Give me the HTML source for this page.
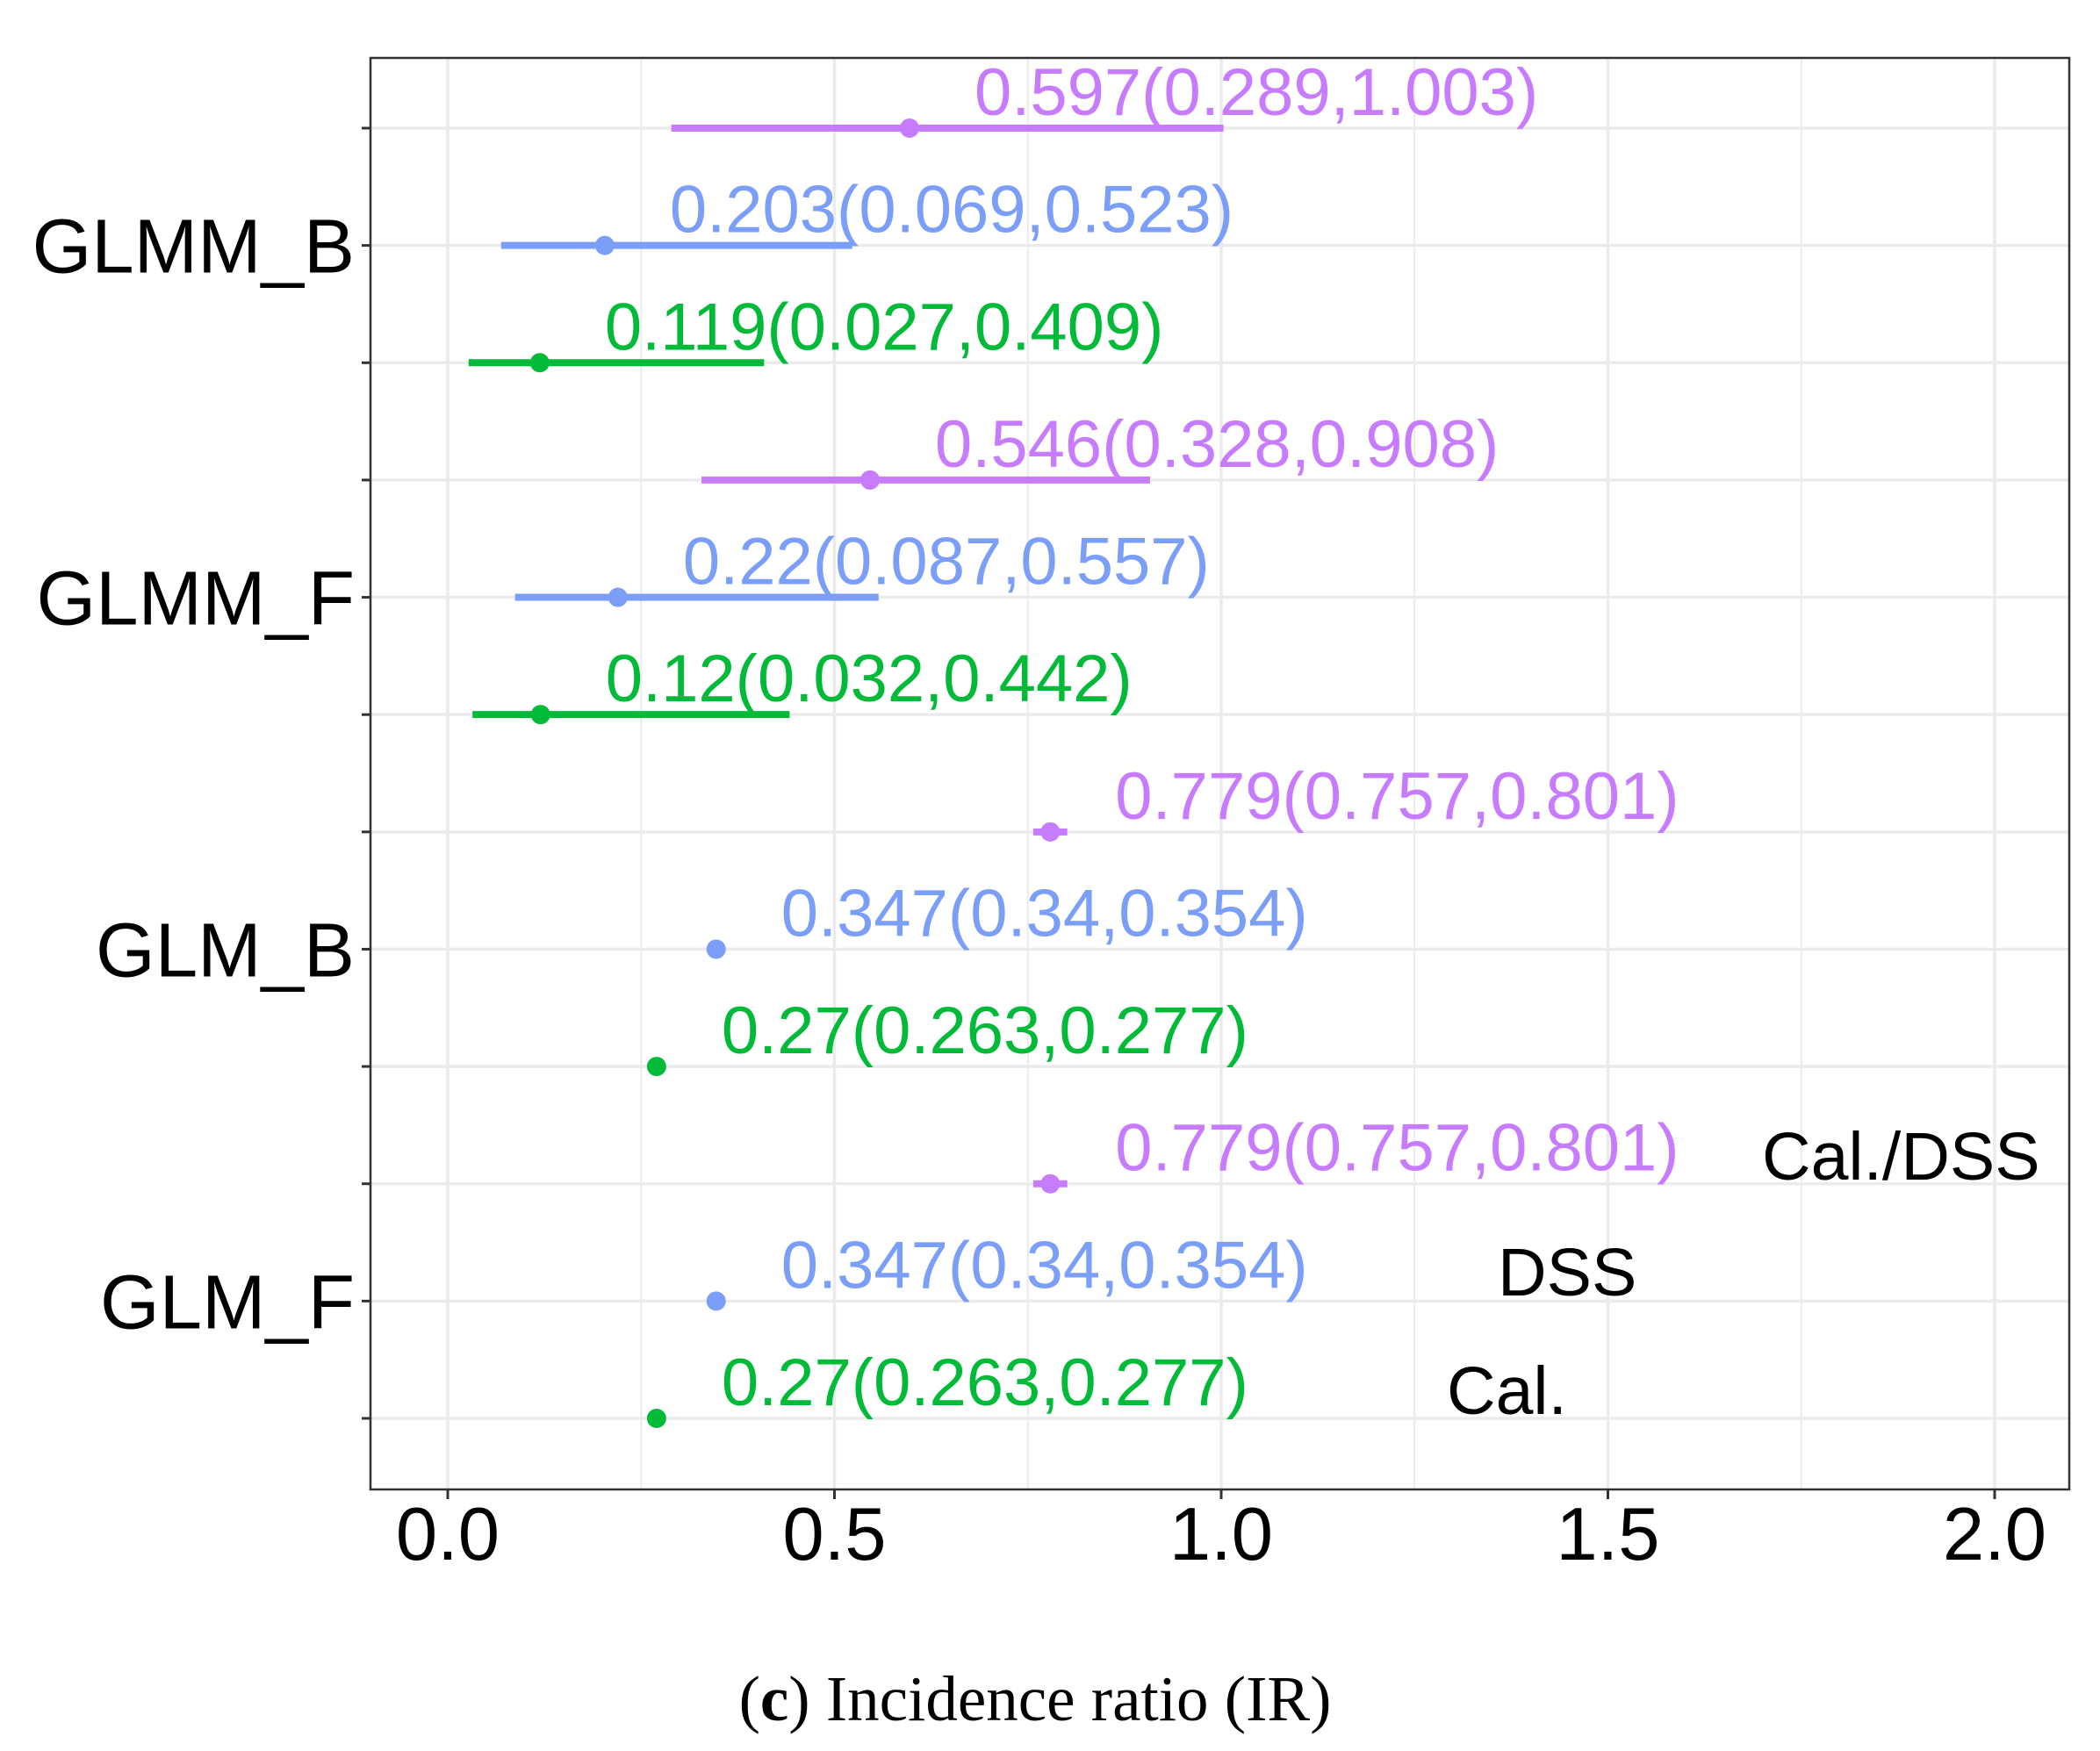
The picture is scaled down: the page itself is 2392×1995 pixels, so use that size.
<!DOCTYPE html>
<html><head><meta charset="utf-8"><style>
body{margin:0;background:#fff}
svg{display:block}
</style></head><body>
<svg id="chart" width="2392" height="1995" viewBox="0 0 2392 1995" xmlns="http://www.w3.org/2000/svg" font-family="Liberation Sans, sans-serif">
<rect x="0" y="0" width="2392" height="1995" fill="#fff"/>
<g id="grid"></g>
<g id="marks"></g>
<rect x="422" y="66" width="1935" height="1631" fill="none" stroke="#333" stroke-width="2.5"/>
<g id="axes"></g>
<text x="2007" y="1344" font-size="77" fill="#000">Cal./DSS</text>
<text x="1706" y="1476" font-size="77" fill="#000">DSS</text>
<text x="1648" y="1611" font-size="77" fill="#000">Cal.</text>
<text x="1179" y="1960" text-anchor="middle" font-family="Liberation Serif, serif" font-size="73" fill="#000">(<tspan font-weight="bold">c</tspan>) Incidence ratio (IR)</text>
</svg>
<script>
const models = ["GLMM_B","GLMM_F","GLM_B","GLM_F"];
const estimates = [0.597,0.203,0.119, 0.546,0.22,0.12, 0.779,0.347,0.27, 0.779,0.347,0.27];
const lows = [0.289,0.069,0.027, 0.328,0.087,0.032, 0.757,0.34,0.263, 0.757,0.34,0.263];
const highs = [1.003,0.523,0.409, 0.908,0.557,0.442, 0.801,0.354,0.277, 0.801,0.354,0.277];
const labels = ["0.597(0.289,1.003)","0.203(0.069,0.523)","0.119(0.027,0.409)",
 "0.546(0.328,0.908)","0.22(0.087,0.557)","0.12(0.032,0.442)",
 "0.779(0.757,0.801)","0.347(0.34,0.354)","0.27(0.263,0.277)",
 "0.779(0.757,0.801)","0.347(0.34,0.354)","0.27(0.263,0.277)"];
const xTicks = [0,0.5,1,1.5,2];
const xTickLabels = ["0.0","0.5","1.0","1.5","2.0"];
const colors = ["#C77CFF","#7B9EF8","#00BA38"];

const NS="http://www.w3.org/2000/svg";
const xs = v => 510 + v*(2272-510)/2;
const ys = i => 146 + i*(1616-146)/11;
function mk(parent,tag,attrs){const e=document.createElementNS(NS,tag);for(const k in attrs)e.setAttribute(k,attrs[k]);document.getElementById(parent).appendChild(e);return e;}

for(let v=0; v<=2.1; v+=0.25){
  const l=mk("grid","line",{x1:xs(v),x2:xs(v),y1:66,y2:1697,stroke:"#EBEBEB","stroke-width":Math.abs(v*2-Math.round(v*2))<1e-6?3.5:2});
  
  
}
for(let i=0;i<12;i++){
  const l=mk("grid","line",{x1:422,x2:2357,y1:ys(i),y2:ys(i),stroke:"#EBEBEB","stroke-width":3.5});
  
  
  const t=mk("axes","line",{x1:412,x2:422,y1:ys(i),y2:ys(i),stroke:"#333","stroke-width":3});
  
  
}
models.forEach((m,k)=>{
  const t=mk("axes","text",{x:404,y:ys(k*3+1)+31,"text-anchor":"end","font-size":87,fill:"#000"});
  t.textContent=m;
  
  
});
xTicks.forEach((v,k)=>{
  const l=mk("axes","line",{x1:xs(v),x2:xs(v),y1:1697,y2:1708,stroke:"#333","stroke-width":3});
  
  
  const t=mk("axes","text",{x:xs(v),y:1777,"text-anchor":"middle","font-size":85,fill:"#000"});
  t.textContent=xTickLabels[k];
  
  
});
estimates.forEach((e,i)=>{
  const c=colors[i%3], y=ys(i);
  const l=mk("marks","line",{x1:xs(lows[i]),x2:xs(highs[i]),y1:y,y2:y,stroke:c,"stroke-width":8});
  
  
  const p=mk("marks","circle",{cx:xs(e),cy:y,r:11,fill:c});
  
  
  const t=mk("marks","text",{x:xs(e)+74,y:y-15,"font-size":76,fill:c});
  t.textContent=labels[i];
  
  
});
</script>
</body></html>
